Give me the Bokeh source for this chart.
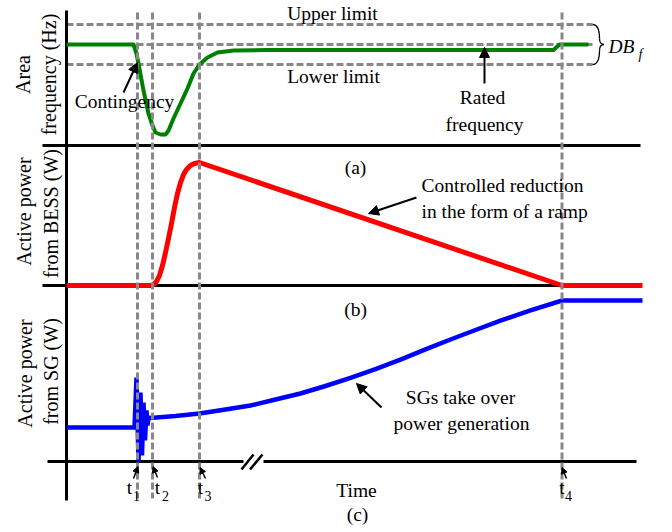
import numpy as np
from bokeh.plotting import figure
from bokeh.models import Range1d, Arrow, NormalHead
from bokeh.core.properties import value
from bokeh.embed import file_html
from bokeh.resources import INLINE

# ---------------- data (time in arbitrary units, t = 0 at the vertical axis) -------------
t_marks = [71, 86, 133, 495.5]          # t1, t2, t3, t4
t_labels = ["1", "2", "3", "4"]

f_nominal = 50.0
f_upper = 50.2
f_lower = 49.8

freq_time = [0, 67, 70, 72, 77, 82, 86, 89, 94, 99, 102, 107, 114, 121, 127, 133, 141, 151, 167, 200, 487, 493, 522]
freq_hz = [50.00, 50.00, 49.91, 49.81, 49.54, 49.31, 49.19, 49.12, 49.10, 49.10, 49.14, 49.26, 49.41,
           49.56, 49.71, 49.80, 49.87, 49.92, 49.94, 49.945, 49.945, 50.00, 50.00]

bess_time = [0, 84, 87, 90, 93, 96, 99, 102, 105, 108, 111, 114, 117, 120, 124, 128, 133, 495.5, 576]
bess_pu = [0, 0, 0.008, 0.033, 0.081, 0.163, 0.268, 0.382, 0.504, 0.634, 0.748, 0.837, 0.902,
           0.943, 0.976, 0.992, 1.00, 0.0, 0.0]

sg_time = [0, 68, 70, 72, 74, 75.5, 77, 78.5, 80, 81, 82, 84, 109, 133, 159, 184, 209, 234, 259, 284,
           309, 334, 359, 384, 409, 434, 464, 495.5, 576]
sg_pu = [0.276, 0.276, 0.683, 0.0, 0.561, 0.049, 0.480, 0.171, 0.415, 0.293, 0.358, 0.354, 0.370,
         0.390, 0.423, 0.455, 0.504, 0.553, 0.614, 0.679, 0.752, 0.829, 0.911, 0.992, 1.069, 1.146,
         1.228, 1.309, 1.309]

FONT = value("Liberation Serif")
GRAY = "#888888"

p = figure(width=672, height=532, x_range=Range1d(-66, 606), y_range=Range1d(45.12, 50.44),
           output_backend="svg", toolbar_location=None, x_axis_location=None, y_axis_location=None,
           min_border=0, outline_line_color=None, background_fill_color="white",
           border_fill_color="white")
p.grid.visible = False
p.extra_x_ranges = {"px": Range1d(0, 672)}
p.extra_y_ranges = {"px": Range1d(532, 0),
                    "bess": Range1d(-2.0081, 2.3171),
                    "sg": Range1d(-0.5772, 3.7480)}

# horizontal frequency limit lines
p.segment(x0=[0, 0, 0], x1=[526, 526, 526], y0=[f_upper, f_nominal, f_lower],
          y1=[f_upper, f_nominal, f_lower], line_color=GRAY, line_width=3, line_dash="7 3")

# brace for dead band
p.bezier(x0=[592, 599, 603.5, 599], y0=[24, 38, 44, 50],
         x1=[599, 603.5, 599, 592], y1=[38, 44, 50, 64],
         cx0=[598, 599, 600, 599], cy0=[24, 42, 44, 55],
         cx1=[599, 600, 599, 598], cy1=[32, 44, 46, 64],
         line_color="black", line_width=1.3, x_range_name="px", y_range_name="px")

# black axis lines
p.segment(x0=[42], x1=[640], y0=[145], y1=[145], line_color="black", line_width=3,
          x_range_name="px", y_range_name="px")
p.segment(x0=[-24], x1=[574], y0=[0], y1=[0], line_color="black", line_width=3, y_range_name="bess")
p.segment(x0=[-19, 197], x1=[177, 570], y0=[0, 0], y1=[0, 0], line_color="black", line_width=3,
          y_range_name="sg")
p.segment(x0=[0], x1=[0], y0=[10], y1=[500], line_color="black", line_width=3, y_range_name="px")
# axis break marks
p.segment(x0=[241, 249.5], x1=[253, 262], y0=[469, 469], y1=[454, 454], line_color="black",
          line_width=2.5, x_range_name="px", y_range_name="px")

# curves
p.line(freq_time, freq_hz, line_color="#008000", line_width=4, line_join="round")
p.line(bess_time, bess_pu, line_color="#ff0000", line_width=5, line_join="round", y_range_name="bess")
p.line(sg_time, sg_pu, line_color="#0000ff", line_width=4.5, line_join="miter", y_range_name="sg")

# vertical time markers
p.segment(x0=t_marks, x1=t_marks, y0=[12] * 4, y1=[498] * 4, line_color=GRAY, line_width=3,
          line_dash="7 3", y_range_name="px")


def txt(xs, ys, texts, size="19.5px", align="center", angle=0.0, style="normal"):
    p.text(x=xs, y=ys, text=texts, text_font=FONT, text_font_size=value(size), text_align=align,
           text_baseline="middle", angle=angle, text_font_style=style, text_color="black",
           x_range_name="px", y_range_name="px")


# axis titles
txt([22, 48], [74, 74], ["Area", "frequency (Hz)"], size="20px", angle=np.pi / 2)
txt([23, 50], [211, 213], ["Active power", "from BESS (W)"], size="20px", angle=np.pi / 2)
txt([24, 50], [373, 371], ["Active power", "from SG (W)"], size="20px", angle=np.pi / 2)

# annotations
txt([332, 333], [13, 76], ["Upper limit", "Lower limit"])
txt([124], [101], ["Contingency"])
txt([482, 484], [97, 124], ["Rated", "frequency"])
txt([355, 355, 357], [167, 309, 514], ["(a)", "(b)", "(c)"])
txt([421, 421], [185, 211], ["Controlled reduction", "in the form of a ramp"], align="left")
txt([460, 461], [397, 423], ["SGs take over", "power generation"])
txt([356], [490], ["Time"])
txt([608], [46], ["DB"], align="left", style="italic")
txt([638], [54], ["f"], size="14px", align="left", style="italic")

# time labels t1..t4
t_px = [m + 66 for m in t_marks]
txt([t_px[0] - 8, t_px[1] + 5, t_px[2] + 1, t_px[3]], [487] * 4, ["t"] * 4)
txt([t_px[0] - 1, t_px[1] + 13, t_px[2] + 8.5, t_px[3] + 6.5], [495] * 4, t_labels, size="14px")

# arrows
def arrow(x0, y0, x1, y1, size=10, lw=2):
    p.add_layout(Arrow(end=NormalHead(size=size, fill_color="black", line_color="black", line_width=1),
                       x_start=x0, y_start=y0, x_end=x1, y_end=y1, line_color="black",
                       line_width=lw, x_range_name="px", y_range_name="px"))


arrow(123, 92, 137, 62)
arrow(484, 83, 484, 47)
arrow(416, 197, 368, 213)
arrow(381, 407, 356, 383)
arrow(133, 478, 137.5, 466, size=6, lw=1.5)
arrow(157, 477, 152.5, 466, size=6, lw=1.5)
arrow(205, 478, 199.5, 467, size=6, lw=1.5)
arrow(566, 478, 561.5, 467, size=6, lw=1.5)

open("out.html", "w").write(file_html(p, INLINE))
